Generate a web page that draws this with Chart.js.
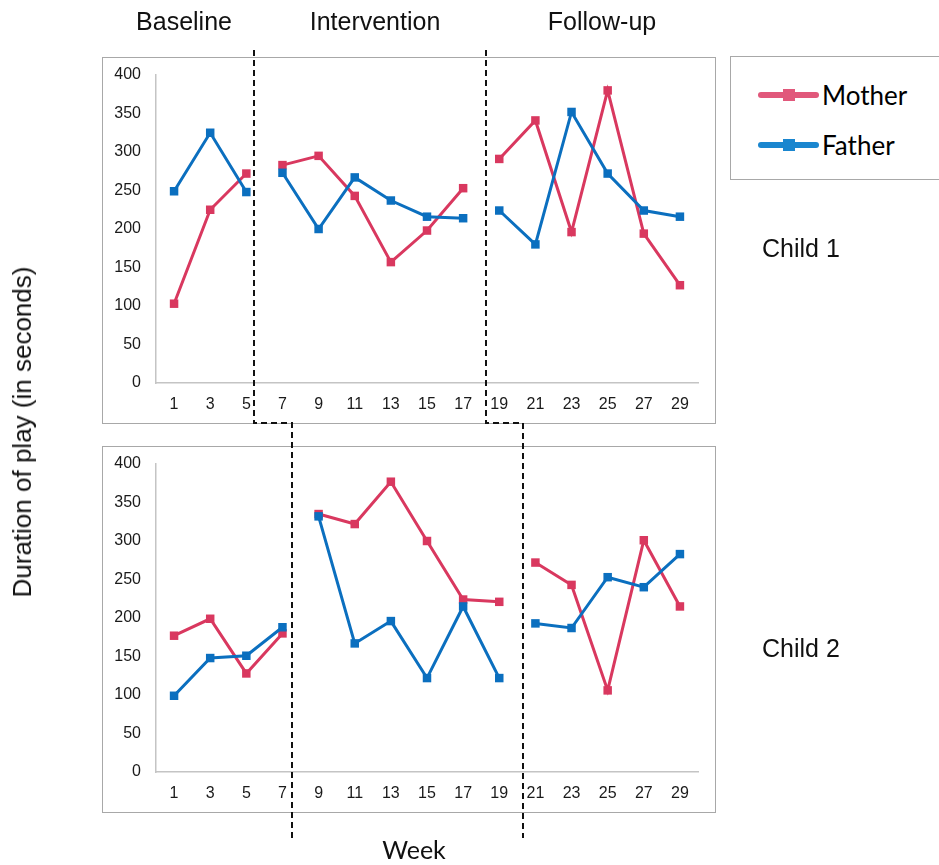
<!DOCTYPE html>
<html>
<head>
<meta charset="utf-8">
<title>Duration of play by week</title>
<script src="https://cdn.jsdelivr.net/npm/chart.js@4.4.1/dist/chart.umd.min.js"></script>
<style>
  html, body { margin: 0; padding: 0; background: #fff; }
  #page { position: relative; width: 939px; height: 865px; overflow: hidden;
          font-family: "Liberation Sans", Arial, sans-serif; color: #111; }
  .box { position: absolute; box-sizing: border-box; border: 1.5px solid #a8a8a8; }
  .chart { position: absolute; }
  .label { position: absolute; white-space: nowrap; line-height: 1; }
  .phase { font-size: 25px; transform: translateX(-50%); }
  .child { font-size: 25px; }
  #ytitle { font-size: 26px; left: 22px; top: 432px; transform: translate(-50%, -50%) rotate(-90deg); }
  #xtitle { font-family: Lato, "Open Sans", sans-serif; font-size: 25px; left: 414px; top: 837px; transform: translateX(-50%); }
  #legend { position: absolute; left: 730px; top: 56px; width: 230px; height: 124px; box-sizing: border-box;
            border: 1.5px solid #a8a8a8; background: #fff; }
  .lg-item { position: absolute; left: 27px; height: 30px; }
  .lg-line { position: absolute; left: 0; top: 12px; width: 61px; height: 6px; border-radius: 3px; }
  .lg-mark { position: absolute; left: 25px; top: 9px; width: 12px; height: 12px; }
  .lg-text { position: absolute; left: 64px; top: 0; font-family: Lato, "Open Sans", sans-serif;
             font-size: 26px; line-height: 30px; color: #000; }
  #cuts { position: absolute; left: 0; top: 0; pointer-events: none; }
</style>
</head>
<body>
<div id="page">
  <div class="box" style="left:102px; top:57px; width:614px; height:367px;"></div>
  <div class="box" style="left:102px; top:446px; width:614px; height:367px;"></div>
  <canvas id="child1" class="chart" width="614" height="366" style="left:102px; top:57px;"></canvas>
  <canvas id="child2" class="chart" width="614" height="366" style="left:102px; top:446px;"></canvas>
  <canvas id="cuts" width="939" height="865"></canvas>

  <div class="label phase" style="left:184px; top:9px;">Baseline</div>
  <div class="label phase" style="left:375px; top:9px;">Intervention</div>
  <div class="label phase" style="left:602px; top:9px;">Follow-up</div>
  <div class="label child" style="left:762px; top:236px;">Child 1</div>
  <div class="label child" style="left:762px; top:636px;">Child 2</div>
  <div id="ytitle" class="label">Duration of play (in seconds)</div>
  <div id="xtitle" class="label">Week</div>
  <div id="legend"></div>
</div>

<script>
// Weeks sampled (every second week)
const weeks = ['1', '3', '5', '7', '9', '11', '13', '15', '17', '19', '21', '23', '25', '27', '29'];
const yTicks = [0, 50, 100, 150, 200, 250, 300, 350, 400];
const seriesNames = ['Mother', 'Father'];

// Child 1: baseline weeks 1-5, intervention 7-17, follow-up 19-29
const child1Mother = [103, 225, 272, 283, 295, 243, 157, 198, 253, 291, 341, 196, 380, 194, 127];
const child1Father = [249, 325, 248, 273, 200, 267, 237, 216, 214, 224, 180, 352, 272, 224, 216];
const child1PhaseLengths = [3, 6, 6];

// Child 2: baseline weeks 1-7, intervention 9-19, follow-up 21-29
const child2Mother = [177, 199, 128, 180, 335, 322, 377, 300, 224, 221, 272, 243, 106, 301, 215];
const child2Father = [99, 148, 151, 188, 332, 167, 196, 122, 215, 122, 193, 187, 253, 240, 283];
const child2PhaseLengths = [4, 6, 5];

const lineColors = { Mother: '#d9385f', Father: '#0b6fbf' };
const legendColors = { Mother: '#e1587b', Father: '#1a86cf' };

// where each phase-change line crosses the week axis (fraction of a step after the last week of a phase)
const cutFraction = { child1: [0.21, 0.63], child2: [0.26, 0.65] };

// index of the last week in each phase (no line is drawn from it to the next week)
function phaseEnds(lengths) {
  const ends = [];
  let acc = 0;
  for (let i = 0; i < lengths.length - 1; i++) { acc += lengths[i]; ends.push(acc - 1); }
  return ends;
}

function makeDataset(name, values, ends, order) {
  const c = lineColors[name];
  return {
    label: name,
    data: values,
    order: order,
    borderColor: c,
    backgroundColor: c,
    borderWidth: 3,
    pointStyle: 'rect',
    pointRadius: 6,
    pointHoverRadius: 6,
    pointBorderWidth: 0,
    tension: 0,
    fill: false,
    segment: {
      borderColor: ctx => ends.includes(ctx.p0DataIndex) ? 'rgba(0,0,0,0)' : undefined
    }
  };
}

const tickFont = { family: '"Liberation Sans", Arial, sans-serif', size: 16 };

function makeChart(id, mother, father, lengths) {
  const ends = phaseEnds(lengths);
  return new Chart(document.getElementById(id), {
    type: 'line',
    data: {
      labels: weeks,
      datasets: [
        makeDataset('Mother', mother, ends, 1),
        makeDataset('Father', father, ends, 0)
      ]
    },
    options: {
      responsive: false,
      animation: false,
      events: [],
      layout: { padding: { top: 18, right: 18, left: 0, bottom: 0 } },
      plugins: { legend: { display: false }, tooltip: { enabled: false } },
      scales: {
        x: {
          type: 'category',
          offset: true,
          grid: { display: false, drawTicks: false },
          border: { display: true, color: '#c4c4c4', width: 1.5 },
          ticks: { color: '#1a1a1a', font: tickFont, padding: 12, maxRotation: 0, autoSkip: false },
          afterFit: s => { s.height = 40; s.paddingLeft = 0; s.paddingRight = 0; }
        },
        y: {
          min: yTicks[0],
          max: yTicks[yTicks.length - 1],
          grid: { display: false, drawTicks: false },
          border: { display: true, color: '#c4c4c4', width: 1.5 },
          ticks: { color: '#1a1a1a', font: tickFont, padding: 15, stepSize: yTicks[1] - yTicks[0] },
          afterFit: s => { s.width = 54; s.paddingTop = 0; s.paddingBottom = 0; }
        }
      }
    }
  });
}

const chart1 = makeChart('child1', child1Mother, child1Father, child1PhaseLengths);
const chart2 = makeChart('child2', child2Mother, child2Father, child2PhaseLengths);

// Dashed phase-change lines, running through both panels with a step between them
function drawCuts() {
  const cv = document.getElementById('cuts');
  const ctx = cv.getContext('2d');
  ctx.clearRect(0, 0, cv.width, cv.height);
  const off1 = chart1.canvas.offsetLeft, off2 = chart2.canvas.offsetLeft;
  const ends1 = phaseEnds(child1PhaseLengths), ends2 = phaseEnds(child2PhaseLengths);
  const topY = 50, stepY = 423, bottomY = 838;
  ctx.strokeStyle = '#111';
  ctx.lineWidth = 2;
  ctx.setLineDash([6, 4]);
  for (let i = 0; i < ends1.length; i++) {
    const xa = off1 + chart1.scales.x.getPixelForValue(ends1[i] + cutFraction.child1[i]);
    const xb = off2 + chart2.scales.x.getPixelForValue(ends2[i] + cutFraction.child2[i]);
    ctx.beginPath();
    ctx.moveTo(Math.round(xa), topY);
    ctx.lineTo(Math.round(xa), stepY);
    ctx.lineTo(Math.round(xb), stepY);
    ctx.lineTo(Math.round(xb), bottomY);
    ctx.stroke();
  }
}
drawCuts();

// Legend built from the series names and colours
const legend = document.getElementById('legend');
seriesNames.forEach((name, i) => {
  const item = document.createElement('div');
  item.className = 'lg-item';
  item.style.top = (23 + i * 50) + 'px';
  const line = document.createElement('div');
  line.className = 'lg-line';
  line.style.background = legendColors[name];
  const mark = document.createElement('div');
  mark.className = 'lg-mark';
  mark.style.background = legendColors[name];
  const text = document.createElement('div');
  text.className = 'lg-text';
  text.textContent = name;
  item.appendChild(line); item.appendChild(mark); item.appendChild(text);
  legend.appendChild(item);
});
</script>
</body>
</html>
